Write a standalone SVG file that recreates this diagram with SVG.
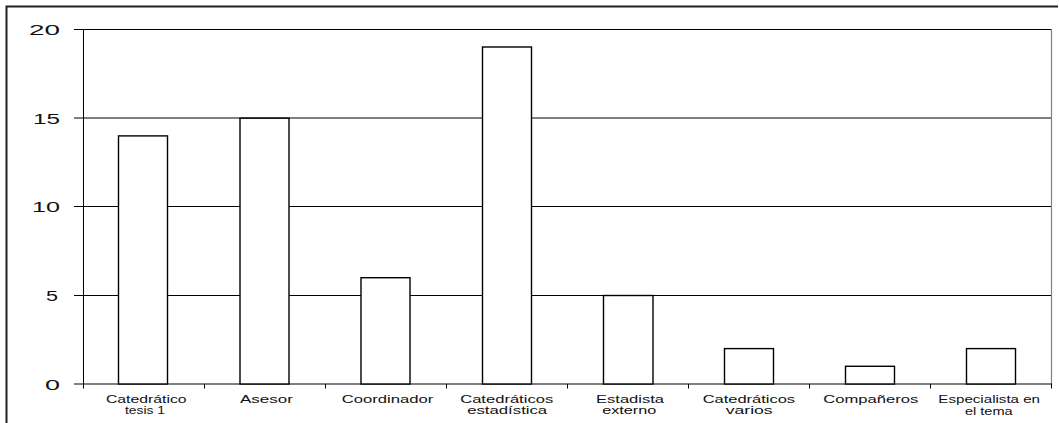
<svg xmlns="http://www.w3.org/2000/svg" width="1059" height="423" viewBox="0 0 1059 423">
  <style>
    .frame { fill: none; stroke: #222; stroke-width: 2; }
    .grid { stroke: #000; stroke-width: 1; fill: none; }
    .plotedge { stroke: #808080; stroke-width: 1.2; fill: none; }
    .bar { fill: #fff; stroke: #000; stroke-width: 1.4; }
    .ylab { font-family: "Liberation Sans", Arial, sans-serif; font-size: 15px; fill: #111; text-anchor: end; }
    .xlab { font-family: "Liberation Sans", Arial, sans-serif; font-size: 11.5px; fill: #111; text-anchor: middle; }
  </style>
  <rect width="1059" height="423" fill="#fff"/>
  <!-- outer chart frame (right and bottom run past the canvas) -->
  <path class="frame" d="M6.5 430 V6.5 H1058"/>

  <!-- plot area: gridlines, axes, ticks -->
  <g id="axes">
    <path class="plotedge" d="M83.5 29.5 H1051.5 V384"/>
    <path class="grid" d="M74 29.5 H1051 M74 118 H1051 M74 206.5 H1051 M74 295.5 H1051"/>
    <path class="grid" d="M83.5 29.5 V388.5 M74 384 H1052"/>
    <path class="grid" d="M204.5 384 V388.5 M325.5 384 V388.5 M446.5 384 V388.5 M567.5 384 V388.5 M688.5 384 V388.5 M809.5 384 V388.5 M930.5 384 V388.5 M1051.5 384 V388.5"/>
    <text class="ylab" x="60" y="35" textLength="31" lengthAdjust="spacingAndGlyphs">20</text>
    <text class="ylab" x="60" y="124" textLength="27" lengthAdjust="spacingAndGlyphs">15</text>
    <text class="ylab" x="60" y="212" textLength="28" lengthAdjust="spacingAndGlyphs">10</text>
    <text class="ylab" x="58" y="301" textLength="12" lengthAdjust="spacingAndGlyphs">5</text>
    <text class="ylab" x="60" y="389.5" textLength="15" lengthAdjust="spacingAndGlyphs">0</text>
  </g>

  <g id="bar-catedratico-tesis">
    <rect class="bar" x="118.5" y="135.9" width="49" height="248.1"/>
    <text class="xlab" x="146.3" y="402.7" textLength="80.7" lengthAdjust="spacingAndGlyphs">Catedrático</text>
    <text class="xlab" x="145" y="414.3" textLength="40" lengthAdjust="spacingAndGlyphs">tesis 1</text>
  </g>
  <g id="bar-asesor">
    <rect class="bar" x="240" y="118.2" width="49" height="265.8"/>
    <text class="xlab" x="266.5" y="402.7" textLength="53" lengthAdjust="spacingAndGlyphs">Asesor</text>
  </g>
  <g id="bar-coordinador">
    <rect class="bar" x="361" y="277.7" width="49" height="106.3"/>
    <text class="xlab" x="387.5" y="402.7" textLength="91.5" lengthAdjust="spacingAndGlyphs">Coordinador</text>
  </g>
  <g id="bar-catedraticos-estadistica">
    <rect class="bar" x="482.5" y="47" width="49" height="337"/>
    <text class="xlab" x="506.7" y="402.7" textLength="93" lengthAdjust="spacingAndGlyphs">Catedráticos</text>
    <text class="xlab" x="507.2" y="414.3" textLength="80" lengthAdjust="spacingAndGlyphs">estadística</text>
  </g>
  <g id="bar-estadista-externo">
    <rect class="bar" x="603.5" y="295.5" width="49.5" height="88.5"/>
    <text class="xlab" x="630" y="402.7" textLength="68" lengthAdjust="spacingAndGlyphs">Estadista</text>
    <text class="xlab" x="629.2" y="414.3" textLength="54" lengthAdjust="spacingAndGlyphs">externo</text>
  </g>
  <g id="bar-catedraticos-varios">
    <rect class="bar" x="724.5" y="348.6" width="49" height="35.4"/>
    <text class="xlab" x="748.9" y="402.7" textLength="92.3" lengthAdjust="spacingAndGlyphs">Catedráticos</text>
    <text class="xlab" x="749.2" y="414.3" textLength="47" lengthAdjust="spacingAndGlyphs">varios</text>
  </g>
  <g id="bar-companeros">
    <rect class="bar" x="845.5" y="366.3" width="49" height="17.7"/>
    <text class="xlab" x="870.8" y="402.7" textLength="95" lengthAdjust="spacingAndGlyphs">Compañeros</text>
  </g>
  <g id="bar-especialista">
    <rect class="bar" x="966.5" y="348.6" width="49" height="35.4"/>
    <text class="xlab" x="989.2" y="402.7" textLength="101.7" lengthAdjust="spacingAndGlyphs">Especialista en</text>
    <text class="xlab" x="988.8" y="414.5" textLength="47.7" lengthAdjust="spacingAndGlyphs">el tema</text>
  </g>
</svg>
